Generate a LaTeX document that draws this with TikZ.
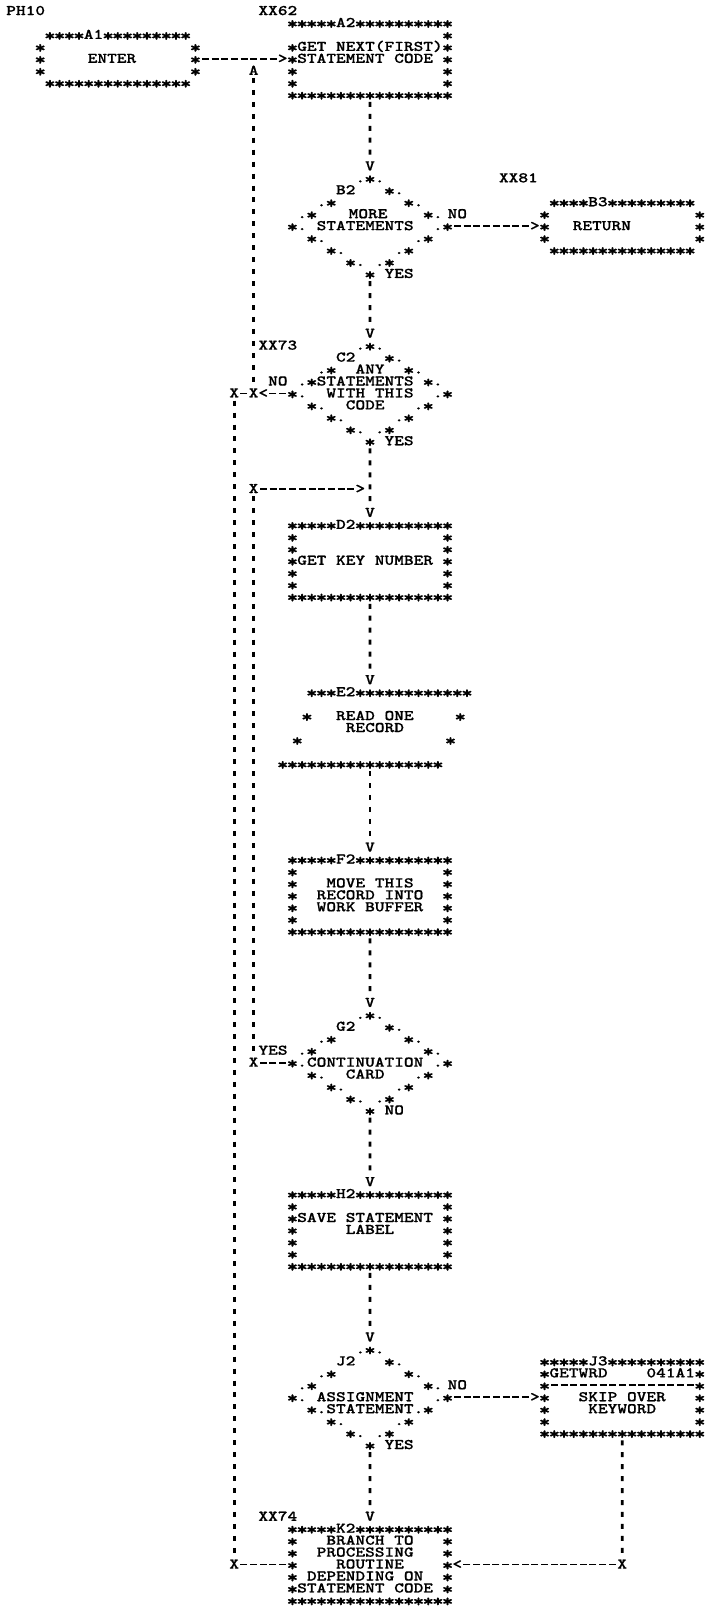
\documentclass[tikz,border=0pt]{standalone}
\usepackage{fontspec}
\usepackage{graphicx}
\newfontfamily\prt{lmmonolt10-bold.otf}[FakeStretch=1.25,FakeBold=0.6]
\newcommand\St{\makebox[9.7pt][c]{\raisebox{-2.4pt}{\scalebox{1.2}{*}}}}
\newcommand\StV{\St\St\St\St\St}
\newcommand\StX{\StV\StV}
\newcommand\Tp[4]{\node[ch] (#1) at ({35.15+9.7*(#2)},{23+11.95*(#3)}) {#4};}
\newcommand\ProcBox[4]{%
  \Tp{#1top}{#2}{#3}{\StV #4\StX}
  \foreach \rr in {1,...,5}{\Tp{#1l\rr}{#2}{#3+\rr}{\St}\Tp{#1r\rr}{#2+16}{#3+\rr}{\St}}
  \Tp{#1bot}{#2}{#3+6}{\StX\StV\St\St}}
\newcommand\TermBox[4]{%
  \Tp{#1top}{#2+1}{#3}{\St\St\St\St #4\StV\St\St\St\St}
  \foreach \rr in {1,2,3}{\Tp{#1l\rr}{#2}{#3+\rr}{\St}\Tp{#1r\rr}{#2+16}{#3+\rr}{\St}}
  \Tp{#1bot}{#2+1}{#3+4}{\StX\StV}}
\newcommand\Dia[3]{%
  \Tp{#1t}{33}{#2}{.\St.}
  \Tp{#1lab}{31}{#2+1}{#3}
  \Tp{#1r1}{36}{#2+1}{\St.}
  \Tp{#1l2}{29}{#2+2}{.\St}
  \Tp{#1r2}{38}{#2+2}{\St.}
  \Tp{#1l3}{27}{#2+3}{.\St}
  \Tp{#1r3}{40}{#2+3}{\St.}
  \Tp{#1l4}{26}{#2+4}{\St.}
  \Tp{#1r4}{41}{#2+4}{.\St}
  \Tp{#1l5}{28}{#2+5}{\St.}
  \Tp{#1r5}{39}{#2+5}{.\St}
  \Tp{#1l6}{30}{#2+6}{\St.}
  \Tp{#1r6}{37}{#2+6}{.\St}
  \Tp{#1l7}{32}{#2+7}{\St.}
  \Tp{#1r7}{35}{#2+7}{.\St}
  \Tp{#1b}{34}{#2+8}{\St}}
\begin{document}
\begin{tikzpicture}[x=1pt,y=-1pt,
  ch/.style={font={\fontsize{14.78pt}{15pt}\prt},inner sep=0pt,
    text height=8pt,text depth=0pt,anchor=west},
  vconn/.style={draw,line width=2.6pt,dash pattern=on 5pt off 6.95pt,
    dash phase=9pt,shorten >=1.5pt},
  hconn/.style={draw,line width=1.8pt,dash pattern=on 7pt off 2.7pt,
    dash phase=8.35pt}]
\fill[white] (0,0) rectangle (708,1610);
\useasboundingbox (0,0) rectangle (708,1610);
% ---- block A
\Tp{ph}{-3}{-1}{PH10}
\Tp{xx62}{23}{-1}{XX62}
\TermBox{A1}{0}{1}{A1}
\Tp{enter}{5.4}{3}{ENTER}
\Tp{A2top}{26}{0}{\StV A2\StX}
\Tp{A2r1}{42}{1}{\St}
\foreach \rr in {2,...,5}{\Tp{A2l\rr}{26}{\rr}{\St}\Tp{A2r\rr}{42}{\rr}{\St}}
\Tp{A2bot}{26}{6}{\StX\StV\St\St}
\Tp{a2t1}{27}{2}{GET NEXT(FIRST)}
\Tp{a2t2}{27}{3}{STATEMENT CODE}
\Tp{gtA}{25}{3}{>}
\Tp{AA}{22}{4}{A}
% ---- block B
\Tp{VB}{34}{12}{V}
\Dia{B2}{13}{B2}
\Tp{b2t1}{32.3}{16}{MORE}
\Tp{b2t2}{29}{17}{STATEMENTS}
\Tp{b2no}{42.5}{16}{NO}
\Tp{b2yes}{36}{21}{YES}
\Tp{xx81}{47.8}{13}{XX81}
\TermBox{B3}{52}{15}{B3}
\Tp{ret}{55.4}{17}{RETURN}
\Tp{gtB}{51}{17}{>}
% ---- block C
\Tp{VC}{34}{26}{V}
\Dia{C2}{27}{C2}
\Tp{xx73}{23}{27}{XX73}
\Tp{c2t1}{33}{29}{ANY}
\Tp{c2t2}{29}{30}{STATEMENTS}
\Tp{c2t3}{30}{31}{WITH THIS}
\Tp{c2t4}{32}{32}{CODE}
\Tp{c2no}{24}{30}{NO}
\Tp{c2yes}{36}{35}{YES}
\Tp{ltC}{23}{31}{<}
\Tp{X22c}{22}{31}{X}
\Tp{X20c}{20}{31}{X}
\Tp{X22d}{22}{39}{X}
\Tp{gtD}{33}{39}{>}
% ---- block D
\Tp{VD}{34}{41}{V}
\ProcBox{D2}{26}{42}{D2}
\Tp{d2t}{27}{45}{GET KEY NUMBER}
% ---- block E
\Tp{VE}{34}{55}{V}
\Tp{E2top}{28}{56}{\St\St\St E2\StX\St\St}
\Tp{E2l2}{27.5}{58}{\St}
\Tp{E2r2}{43.3}{58}{\St}
\Tp{E2l4}{26.5}{60}{\St}
\Tp{E2r4}{42.3}{60}{\St}
\Tp{E2bot}{25}{62}{\StX\StV\St\St}
\Tp{e2t1}{31}{58}{READ ONE}
\Tp{e2t2}{32}{59}{RECORD}
% ---- block F
\Tp{VF}{34}{69}{V}
\ProcBox{F2}{26}{70}{F2}
\Tp{f2t1}{30}{72}{MOVE THIS}
\Tp{f2t2}{29}{73}{RECORD INTO}
\Tp{f2t3}{29}{74}{WORK BUFFER}
% ---- block G
\Tp{VG}{34}{82}{V}
\Dia{G2}{83}{G2}
\Tp{g2t1}{28}{87}{CONTINUATION}
\Tp{g2t2}{32}{88}{CARD}
\Tp{g2yes}{23}{86}{YES}
\Tp{g2no}{36}{91}{NO}
\Tp{X22g}{22}{87}{X}
% ---- block H
\Tp{VH}{34}{97}{V}
\ProcBox{H2}{26}{98}{H2}
\Tp{h2t1}{27}{100}{SAVE STATEMENT}
\Tp{h2t2}{32}{101}{LABEL}
% ---- block J
\Tp{VJ}{34}{110}{V}
\Dia{J2}{111}{J2}
\Tp{j2t1}{29}{115}{ASSIGNMENT}
\Tp{j2t2}{30}{116}{STATEMENT}
\Tp{j2no}{42.5}{114}{NO}
\Tp{j2yes}{36}{119}{YES}
\Tp{gtJ}{51}{115}{>}
\ProcBox{J3}{52}{112}{J3}
\Tp{j3a}{53}{113}{GETWRD}
\Tp{j3b}{63}{113}{041A1}
\Tp{j3t1}{56}{115}{SKIP OVER}
\Tp{j3t2}{57}{116}{KEYWORD}
% ---- block K
\Tp{xx74}{23}{125}{XX74}
\Tp{VK}{34}{125}{V}
\ProcBox{K2}{26}{126}{K2}
\Tp{k2t1}{30}{127}{BRANCH TO}
\Tp{k2t2}{29}{128}{PROCESSING}
\Tp{k2t3}{31}{129}{ROUTINE}
\Tp{k2t4}{28}{130}{DEPENDING ON}
\Tp{k2t5}{27}{131}{STATEMENT CODE}
\Tp{X20k}{20}{129}{X}
\Tp{ltK}{43}{129}{<}
\Tp{X60}{60}{129}{X}
% ---- horizontal connectors
\draw[hconn] (A1r2.east) -- (gtA.west);
\draw[hconn] (B2r4.east) -- (gtB.west);
\draw[hconn] (J2r4.east) -- (gtJ.west);
\draw[hconn] (C2l4.west) -- (ltC.east);
\draw[hconn] (X22c.west) -- (X20c.east);
\draw[hconn] (X22d.east) -- (gtD.west);
\draw[hconn] (G2l4.west) -- (X22g.east);
\draw[hconn] (K2l3.west) -- (X20k.east);
\draw[hconn] (X60.west) -- (ltK.east);
\draw[hconn] (J3l2.east) -- (J3r2.west);
% ---- vertical connectors
\draw[vconn] (A2bot.south) -- (VB.north);
\draw[vconn] (B2b.south) -- (VC.north);
\draw[vconn] (C2b.south) -- (VD.north);
\draw[vconn] (D2bot.south) -- (VE.north);
\draw[vconn] (E2bot.south -| VF.north) -- (VF.north);
\draw[vconn] (F2bot.south) -- (VG.north);
\draw[vconn] (G2b.south) -- (VH.north);
\draw[vconn] (H2bot.south) -- (VJ.north);
\draw[vconn] (J2b.south) -- (VK.north);
\draw[vconn] (AA.south) -- (X22c.north);
\draw[vconn] (X22d.south) -- (X22g.north);
\draw[vconn] (X20c.south) -- (X20k.north);
\draw[vconn] (J3bot.south) -- (X60.north);
\end{tikzpicture}
\end{document}
